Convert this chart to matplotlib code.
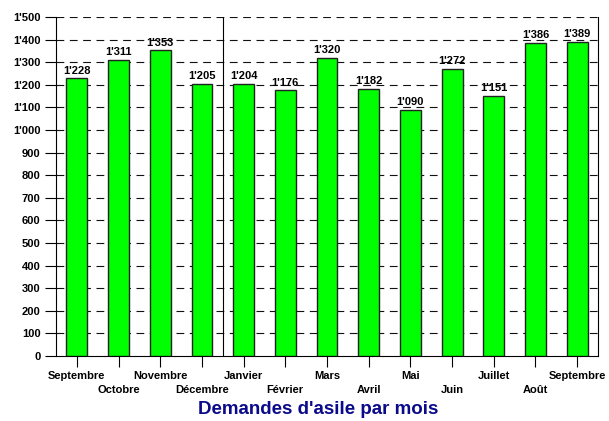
import numpy as np
import matplotlib.pyplot as plt
from matplotlib.transforms import ScaledTranslation

mois = ['Septembre', 'Octobre', 'Novembre', 'Décembre', 'Janvier', 'Février', 'Mars',
        'Avril', 'Mai', 'Juin', 'Juillet', 'Août', 'Septembre']
demandes = [1228, 1311, 1353, 1205, 1204, 1176, 1320, 1182, 1090, 1272, 1151, 1386, 1389]
y_ticks = list(range(0, 1501, 100))


def fmt(v):
    # séparateur des milliers à la suisse
    return f"{v:,}".replace(',', "'")


plt.rcParams['font.family'] = ['Liberation Sans', 'DejaVu Sans']

fig = plt.figure(figsize=(6.09, 4.21), dpi=100)
ax = fig.add_axes([56 / 609, 65 / 421, 542 / 609, 339 / 421])

x = np.arange(len(mois))
ax.bar(x, demandes, width=0.5, color='#00ff00', edgecolor='#222222', linewidth=1, zorder=3)

for xi, v in zip(x, demandes):
    ax.text(xi, v + 12, fmt(v), ha='center', va='bottom', fontsize=8,
            fontweight='bold', zorder=4)

# quadrillage
for t in y_ticks[1:]:
    ax.axhline(t, color='#111111', linestyle=(0, (7, 5)), linewidth=0.8, zorder=1)
ax.axvline(3.5, color='black', linewidth=0.8, zorder=2)

ax.set_xlim(-0.5, len(mois) - 0.5)
ax.set_ylim(0, 1500)
ax.set_yticks(y_ticks)
ax.set_yticklabels([fmt(t) for t in y_ticks], fontsize=8, fontweight='bold')
ax.set_xticks(x)
ax.set_xticklabels(mois, fontsize=8, fontweight='bold')
ax.tick_params(axis='x', length=8, width=0.8, pad=3)
ax.tick_params(axis='y', length=8, width=0.8, pad=3)

# une étiquette sur deux décalée vers le bas
decal = ScaledTranslation(0, -14 / 100, fig.dpi_scale_trans)
for i, lab in enumerate(ax.get_xticklabels()):
    if i % 2 == 1:
        lab.set_transform(lab.get_transform() + decal)

ax.spines['top'].set_visible(False)
for s in ['left', 'right', 'bottom']:
    ax.spines[s].set_linewidth(0.8)

fig.text(318 / 609, 11 / 421, "Demandes d'asile par mois", ha='center', va='center',
         fontsize=13.5, fontweight='bold', color='#0a0a8a')

fig.savefig('out.png', dpi=100)
